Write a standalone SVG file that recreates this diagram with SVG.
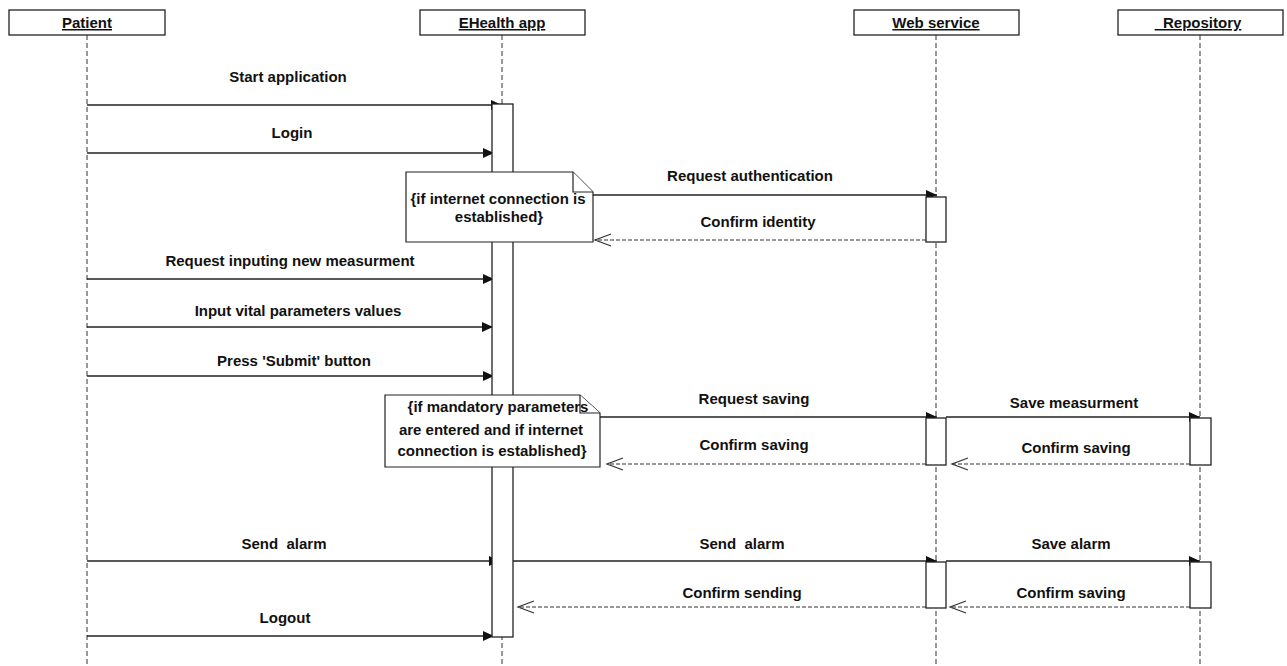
<svg xmlns="http://www.w3.org/2000/svg" width="1287" height="666" viewBox="0 0 1287 666">
<defs>
<style>
.box{fill:#fff;stroke:#222;stroke-width:1.3}
.life{stroke:#333;stroke-width:1;stroke-dasharray:5,3;fill:none}
.hdr{font-family:"Liberation Sans",Arial,sans-serif;font-size:15px;font-weight:bold;text-decoration:underline;text-anchor:middle;fill:#111}
.lbl{font-family:"Liberation Sans",Arial,sans-serif;font-size:15px;font-weight:bold;text-anchor:middle;fill:#111}
.nlbl{font-family:"Liberation Sans",Arial,sans-serif;font-size:15px;font-weight:bold;text-anchor:middle;fill:#111}
.msg{stroke:#222;stroke-width:1.3;fill:none;marker-end:url(#filled)}
.ret{stroke:#333;stroke-width:1.1;stroke-dasharray:4,2;fill:none;marker-end:url(#open)}
.bar{fill:#fff;stroke:#222;stroke-width:1.3}
.note{fill:#fff;stroke:#222;stroke-width:1.2}
</style>
<marker id="filled" markerUnits="userSpaceOnUse" markerWidth="12" markerHeight="12" refX="11" refY="5" orient="auto">
<path d="M0,0 L11,5 L0,10 z" fill="#111" stroke="none"/>
</marker>
<marker id="open" markerUnits="userSpaceOnUse" markerWidth="20" markerHeight="14" refX="17" refY="6.5" orient="auto">
<path d="M1,0.5 L17,6.5 L1,12.5" fill="none" stroke="#333" stroke-width="1.2" stroke-dasharray="none"/>
</marker>
</defs>
<rect width="1287" height="666" fill="#fff"/>

<g id="patient">
<rect class="box" x="9" y="10" width="156" height="25"/>
<text class="hdr" x="87" y="28">Patient</text>
<line class="life" x1="87" y1="35" x2="87" y2="666"/>
</g>
<g id="ehealth-app">
<rect class="box" x="420" y="10" width="165" height="25"/>
<text class="hdr" x="502" y="28">EHealth app</text>
<line class="life" x1="502" y1="35" x2="502" y2="666"/>
</g>
<g id="web-service">
<rect class="box" x="854" y="10" width="165" height="25"/>
<text class="hdr" x="936" y="28">Web service</text>
<line class="life" x1="936" y1="35" x2="936" y2="666"/>
</g>
<g id="repository">
<rect class="box" x="1118" y="10" width="165" height="25"/>
<text class="hdr" x="1198" y="28" xml:space="preserve">  Repository</text>
<line class="life" x1="1200" y1="35" x2="1200" y2="666"/>
</g>

<g id="connectors">
<line class="msg" x1="87" y1="105" x2="502" y2="105"/>
<line class="msg" x1="87" y1="153" x2="494" y2="153"/>
<line class="msg" x1="593" y1="195" x2="937" y2="195"/>
<line class="ret" x1="926" y1="240" x2="595" y2="240"/>
<line class="msg" x1="87" y1="279" x2="494" y2="279"/>
<line class="msg" x1="87" y1="327" x2="493" y2="327"/>
<line class="msg" x1="87" y1="376" x2="494" y2="376"/>
<line class="msg" x1="600" y1="417" x2="937" y2="417"/>
<line class="msg" x1="946" y1="417" x2="1200" y2="417"/>
<line class="ret" x1="1190" y1="464" x2="952" y2="464"/>
<line class="ret" x1="926" y1="464" x2="607" y2="464"/>
<line class="msg" x1="87" y1="561" x2="500" y2="561"/>
<line class="msg" x1="513" y1="561" x2="937" y2="561"/>
<line class="msg" x1="946" y1="561" x2="1200" y2="561"/>
<line class="ret" x1="926" y1="607" x2="518" y2="607"/>
<line class="ret" x1="1190" y1="607" x2="950" y2="607"/>
<line class="msg" x1="87" y1="636" x2="494" y2="636"/>

<text class="nlbl" x="288" y="82">Start application</text>
<text class="nlbl" x="292" y="138">Login</text>
<text class="lbl" x="750" y="181">Request authentication</text>
<text class="lbl" x="758" y="227">Confirm identity</text>
<text class="lbl" x="290" y="266">Request inputing new measurment</text>
<text class="lbl" x="298" y="316">Input vital parameters values</text>
<text class="lbl" x="294" y="366">Press 'Submit' button</text>
<text class="lbl" x="754" y="404">Request saving</text>
<text class="lbl" x="1074" y="408">Save measurment</text>
<text class="lbl" x="754" y="450">Confirm saving</text>
<text class="lbl" x="1076" y="453">Confirm saving</text>
<text class="nlbl" x="284" y="549" xml:space="preserve">Send  alarm</text>
<text class="nlbl" x="742" y="549" xml:space="preserve">Send  alarm</text>
<text class="nlbl" x="1071" y="549">Save alarm</text>
<text class="nlbl" x="742" y="598">Confirm sending</text>
<text class="nlbl" x="1071" y="598">Confirm saving</text>
<text class="nlbl" x="285" y="623">Logout</text>
</g>

<g id="activations">
<rect class="bar" x="492" y="104" width="21" height="533"/>
<rect class="bar" x="926" y="197" width="20" height="45"/>
<rect class="bar" x="926" y="418" width="20" height="47"/>
<rect class="bar" x="1190" y="418" width="21" height="47"/>
<rect class="bar" x="926" y="562" width="20" height="46"/>
<rect class="bar" x="1190" y="562" width="21" height="46"/>
</g>

<g id="note-internet">
<path class="note" d="M406,172 L573,172 L593,192 L593,242 L406,242 Z"/>
<path class="note" d="M573,172 L573,192 L593,192" fill="none"/>
<text class="lbl" x="498" y="204">{if internet connection is</text>
<text class="lbl" x="499" y="222">established}</text>
</g>
<g id="note-mandatory">
<path class="note" d="M385,395 L580,395 L600,413 L600,467 L385,467 Z"/>
<path class="note" d="M580,395 L580,413 L600,413" fill="none"/>
<text class="lbl" x="498" y="412">{if mandatory parameters</text>
<text class="lbl" x="491" y="435">are entered and if internet</text>
<text class="lbl" x="492" y="456">connection is established}</text>
</g>
</svg>
